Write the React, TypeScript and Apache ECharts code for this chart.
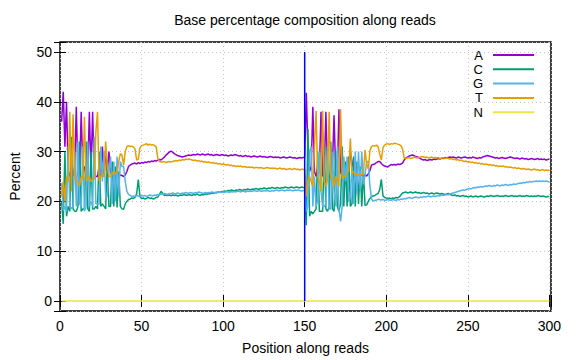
import React, { useEffect, useRef } from "react";
import * as echarts from "echarts";

const chartTitle = "Base percentage composition along reads";
const xAxisTitle = "Position along reads";
const yAxisTitle = "Percent";
const seriesNames = ["A", "C", "G", "T", "N"];
const seriesColors = ["#9400d3", "#009e73", "#56b4e9", "#e69f00", "#f0e442"];

// Percent of each base at positions 1..300 (read 1 = 1..150, read 2 = 151..300)
const aValues = [
  36, 42, 31, 40, 26, 25, 27, 25, 27, 39,
  25, 26, 38, 26, 27, 25, 26, 38, 26, 38,
  26, 25, 25, 27, 25, 31, 25, 30, 26, 30,
  26, 25, 25.5, 25, 25.5, 25, 25.3, 25.2, 25, 25.3,
  26, 27, 27.3, 27.5, 27.6, 27.7, 27.5, 27.8, 27.6, 27.8,
  27.7, 27.9, 27.8, 28, 27.9, 28.1, 28, 28.2, 28.1, 28.3,
  28.4, 28.3, 28.6, 28.9, 29.3, 29.6, 29.9, 30.1, 29.9, 29.6,
  29.4, 29.2, 29.1, 29, 28.9, 29, 29.1, 29.2, 29.3, 29.2,
  29.3, 29.4, 29.3, 29.5, 29.4, 29.3, 29.5, 29.4, 29.3, 29.4,
  29.5, 29.3, 29.4, 29.2, 29.3, 29.4, 29.3, 29.2, 29.4, 29.3,
  29.2, 29.3, 29.1, 29.2, 29.3, 29.2, 29.4, 29.3, 29.2, 29.1,
  29.2, 29.0, 29.1, 29.2, 29.0, 29.1, 28.9, 29.0, 29.1, 29.0,
  28.9, 29.0, 29.1, 28.9, 29.0, 28.9, 28.8, 28.9, 29.0, 28.9,
  28.8, 28.9, 28.8, 28.9, 28.7, 28.8, 28.9, 28.8, 28.7, 28.8,
  28.9, 28.8, 28.7, 28.8, 28.6, 28.7, 28.8, 28.7, 28.8, 28.8,
  41.8, 30, 26, 27, 39, 26, 25, 27, 26, 38,
  25, 26, 38, 26, 25, 25, 27, 37.3, 26, 25,
  38.5, 26, 25, 27, 25.5, 26, 25, 30, 28, 25.5,
  25.2, 25, 25.3, 25.1, 25.4, 25, 25.3, 25.1, 25.5, 26.2,
  27.3, 27.4, 27.5, 27.8, 28, 28, 27.6, 27.3, 27.1, 27,
  26.9, 27.2, 27.4, 27.3, 27.4, 27.3, 27.5, 27.4, 27.5, 27.7,
  28.3, 28.7, 28.9, 29.1, 29.2, 29.3, 29.2, 29.0, 28.9, 28.8,
  28.6, 28.4, 28.3, 28.4, 28.2, 28.3, 28.4, 28.3, 28.5, 28.4,
  28.5, 28.6, 28.5, 28.7, 28.6, 28.8, 28.7, 28.8, 28.9, 28.8,
  28.9, 28.8, 28.7, 28.9, 28.8, 28.7, 28.8, 28.9, 28.8, 28.7,
  28.8, 28.7, 28.9, 28.8, 28.7, 28.6, 28.8, 28.7, 28.9, 29.0,
  29.1, 29.2, 29.1, 29.0, 28.9, 28.8, 28.7, 28.8, 28.6, 28.7,
  28.8, 28.7, 28.6, 28.7, 28.8, 28.9, 28.8, 28.7, 28.6, 28.7,
  28.6, 28.5, 28.7, 28.6, 28.5, 28.6, 28.4, 28.5, 28.6, 28.5,
  28.4, 28.5, 28.6, 28.4, 28.5, 28.4, 28.5, 28.3, 28.4, 28.5,
];

const cValues = [
  20, 15.5, 30, 17, 19, 18, 33, 18.5, 18, 18,
  19, 32, 18, 18.5, 18.5, 32, 18.5, 18, 30, 18.5,
  18.5, 19, 18.5, 30, 19, 19.5, 19, 18.5, 28, 19,
  19, 28, 19, 27, 18.8, 26, 19, 18.5, 18.4, 19.5,
  20, 20.4, 20.5, 20.7, 20.6, 20.8, 21.5, 24.4, 21, 20.6,
  20.7, 20.5, 20.6, 20.8, 20.6, 20.7, 20.5, 20.6, 20.8, 20.9,
  21.4, 22, 21.6, 21.2, 21.3, 21.2, 21.3, 21.1, 21.3, 21.2,
  21.3, 21.1, 21.2, 21.3, 21.2, 21.4, 21.3, 21.2, 21.4, 21.3,
  21.2, 21.4, 21.3, 21.5, 21.3, 21.2, 21.4, 21.3, 21.5, 21.4,
  21.6, 21.5, 21.7, 21.6, 21.8, 21.7, 21.9, 21.8, 22.0, 21.9,
  22.1, 22.0, 22.2, 22.1, 22.3, 22.2, 22.1, 22.3, 22.2, 22.4,
  22.3, 22.2, 22.4, 22.3, 22.5, 22.4, 22.3, 22.5, 22.4, 22.6,
  22.5, 22.4, 22.6, 22.5, 22.7, 22.6, 22.5, 22.7, 22.6, 22.8,
  22.7, 22.6, 22.8, 22.7, 22.6, 22.8, 22.7, 22.9, 22.8, 22.7,
  22.8, 22.9, 22.7, 22.8, 22.9, 22.8, 22.7, 22.9, 22.8, 22.8,
  15.2, 34.6, 17, 18, 17.5, 18, 18.5, 30, 18, 18,
  18, 31, 18.5, 18, 19, 32, 18.5, 18, 30, 19,
  18, 19.5, 31, 19, 28, 19, 29, 19, 19.5, 29,
  19, 28, 19.5, 27, 19, 26, 19.2, 19.3, 20, 20.6,
  21, 21.1, 21.2, 21.4, 21.6, 22.4, 24.4, 21.1, 20.8, 20.7,
  20.6, 20.7, 20.5, 20.7, 20.6, 20.8, 20.7, 20.9, 21.3, 21.7,
  21.8, 21.9, 21.7, 21.8, 21.9, 21.7, 21.8, 21.9, 21.7, 21.8,
  21.6, 21.7, 21.8, 21.6, 21.7, 21.5, 21.6, 21.7, 21.5, 21.6,
  21.7, 21.6, 21.5, 21.6, 21.5, 21.4, 21.5, 21.6, 21.4, 21.3,
  21.2, 21.3, 21.1, 21.2, 21.0, 21.1, 21.2, 21.0, 21.1, 20.9,
  21.0, 21.1, 20.9, 21.0, 21.1, 20.9, 21.0, 21.1, 21.0, 20.9,
  21.0, 21.1, 21.0, 21.2, 21.1, 21.0, 21.1, 21.2, 21.1, 21.0,
  21.1, 21.0, 21.2, 21.1, 21.0, 21.1, 21.2, 21.0, 21.1, 21.0,
  21.1, 21.2, 21.0, 21.1, 21.0, 21.2, 21.1, 21.0, 21.1, 21.0,
  21.1, 21.0, 21.2, 21.1, 21.0, 21.1, 21.0, 20.9, 21.0, 21.0,
];

const gValues = [
  23.7, 18.2, 19, 18, 31, 19, 18.5, 19, 30, 19,
  32, 19.5, 19, 31, 18, 19, 32, 19, 20, 19,
  33, 19.5, 19.5, 19.5, 31, 24, 30, 21, 21, 26,
  29, 19.5, 28, 20, 29, 21, 28, 27, 27, 24,
  22, 21.4, 21.2, 21.0, 21.1, 21.0, 21.2, 21.1, 21.0, 21.2,
  21.1, 21.2, 21.0, 21.1, 21.3, 21.2, 21.1, 21.3, 21.2, 21.4,
  21.3, 21.5, 21.4, 21.6, 21.5, 21.4, 21.6, 21.5, 21.7, 21.6,
  21.5, 21.7, 21.6, 21.5, 21.7, 21.6, 21.8, 21.7, 21.6, 21.8,
  21.7, 21.6, 21.8, 21.7, 21.9, 21.8, 21.7, 21.6, 21.8, 21.7,
  21.8, 21.7, 21.9, 21.8, 21.7, 21.9, 21.8, 21.9, 21.8, 21.9,
  21.8, 22.0, 21.9, 21.8, 22.0, 21.9, 22.0, 21.9, 22.1, 22.0,
  21.9, 22.1, 22.0, 21.9, 22.1, 22.0, 22.1, 22.0, 22.2, 22.1,
  22.0, 22.2, 22.1, 22.0, 22.2, 22.1, 22.2, 22.1, 22.0, 22.2,
  22.1, 22.2, 22.3, 22.1, 22.2, 22.3, 22.2, 22.1, 22.3, 22.2,
  22.3, 22.2, 22.1, 22.3, 22.2, 22.3, 22.2, 22.1, 22.2, 22.2,
  18, 19, 30, 31, 19, 25, 19, 20, 30, 22,
  19, 19, 19.5, 31, 18.5, 18.5, 30, 22, 19, 31,
  18.5, 16, 19, 29, 24, 29, 20, 21, 27, 19.5,
  30, 21.5, 30, 22.5, 30, 23.4, 25.3, 28, 28, 23,
  20.5, 20.1, 20.2, 20.3, 20.4, 20.4, 20.3, 20.4, 20.2, 20.3,
  20.4, 20.3, 20.2, 20.4, 20.3, 20.2, 20.4, 20.3, 20.5, 20.4,
  20.6, 20.5, 20.7, 20.8, 20.7, 20.6, 20.8, 20.9, 20.8, 20.7,
  20.9, 20.8, 21.0, 20.9, 21.0, 21.1, 20.9, 21.0, 21.1, 21.0,
  21.1, 21.2, 21.1, 21.3, 21.2, 21.3, 21.4, 21.3, 21.5, 21.6,
  21.7, 21.8, 21.9, 22.0, 22.1, 22.2, 22.3, 22.2, 22.4, 22.5,
  22.6, 22.5, 22.7, 22.8, 22.7, 22.9, 22.8, 23.0, 22.9, 23.0,
  23.1, 23.0, 23.2, 23.1, 23.0, 23.2, 23.1, 23.3, 23.2, 23.1,
  23.3, 23.2, 23.4, 23.3, 23.2, 23.4, 23.3, 23.5, 23.4, 23.5,
  23.6, 23.7, 23.6, 23.8, 23.7, 23.9, 23.8, 24.0, 23.9, 24.0,
  24.0, 24.1, 24.0, 24.1, 24.0, 24.1, 24.0, 24.1, 24.0, 23.9,
];

const tValues = [
  21, 24, 20, 25, 24, 38, 22, 37.5, 25, 24,
  24, 23, 25, 24.5, 37, 24, 24.5, 25, 24, 24.5,
  24.5, 34, 38, 24, 25, 25.5, 25, 32, 27, 25,
  25, 25.5, 26, 25.5, 26, 28, 29.6, 29.3, 27.3, 30,
  31, 31.2, 31, 31.1, 30.9, 30.5, 28.3, 28.5, 30.8, 31.2,
  31.3, 31.4, 31.6, 31.3, 31.5, 31.3, 31.4, 31.2, 30.9, 28.6,
  28.0, 27.9, 27.9, 28.0, 27.8, 27.9, 28.0, 27.9, 28.0, 28.1,
  28.2, 28.1, 28.3, 28.2, 28.4, 28.3, 28.5, 28.4, 28.5, 28.4,
  28.3, 28.2, 28.3, 28.1, 28.2, 28.0, 28.1, 27.9, 28.0, 27.8,
  27.9, 27.8, 27.7, 27.8, 27.6, 27.7, 27.5, 27.6, 27.4, 27.5,
  27.4, 27.3, 27.4, 27.2, 27.3, 27.1, 27.2, 27.0, 27.1, 27.0,
  27.1, 26.9, 27.0, 26.9, 26.8, 26.9, 26.8, 26.9, 26.7, 26.8,
  26.8, 26.7, 26.8, 26.7, 26.6, 26.7, 26.8, 26.7, 26.6, 26.7,
  26.6, 26.7, 26.5, 26.6, 26.7, 26.5, 26.6, 26.5, 26.4, 26.5,
  26.6, 26.4, 26.5, 26.6, 26.4, 26.5, 26.3, 26.5, 26.4, 26.5,
  21, 24, 25, 24, 23, 31, 38.2, 25, 24, 22,
  38.2, 24, 23, 24.5, 38, 25, 24.5, 23, 25, 24.5,
  23, 38.5, 24.5, 25, 25, 26, 26, 32.6, 25.5, 26,
  25.3, 25.4, 25.2, 25.3, 25.4, 25.6, 30.3, 27.5, 26.5, 30.2,
  31, 31.2, 31.1, 31.3, 31.0, 29.5, 28.3, 30.8, 31.3, 31.5,
  31.6, 31.4, 31.6, 31.5, 31.7, 31.6, 31.5, 31.4, 31.2, 30.5,
  28.7, 28.6, 28.7, 28.8, 28.6, 28.7, 28.9, 28.8, 28.7, 28.8,
  28.9, 29.0, 28.9, 28.8, 28.9, 28.7, 28.8, 28.9, 28.7, 28.8,
  28.7, 28.8, 28.6, 28.7, 28.8, 28.6, 28.7, 28.6, 28.5, 28.6,
  28.4, 28.5, 28.3, 28.4, 28.2, 28.3, 28.1, 28.0, 28.1, 27.9,
  28.0, 27.8, 27.9, 27.7, 27.8, 27.6, 27.7, 27.5, 27.6, 27.4,
  27.5, 27.4, 27.3, 27.4, 27.2, 27.3, 27.1, 27.2, 27.0, 27.1,
  27.0, 27.1, 26.9, 27.0, 26.8, 26.9, 26.8, 26.7, 26.8, 26.6,
  26.7, 26.6, 26.5, 26.6, 26.5, 26.4, 26.5, 26.4, 26.3, 26.4,
  26.5, 26.3, 26.4, 26.2, 26.3, 26.4, 26.2, 26.3, 26.2, 26.3,
];

const nValues = [
  0, 0, 0, 0, 0, 0, 0, 0, 0, 0, 0, 0, 0, 0, 0, 0, 0, 0, 0, 0,
  0, 0, 0, 0, 0, 0, 0, 0, 0, 0, 0, 0, 0, 0, 0, 0, 0, 0, 0, 0,
  0, 0, 0, 0, 0, 0, 0, 0, 0, 0, 0, 0, 0, 0, 0, 0, 0, 0, 0, 0,
  0, 0, 0, 0, 0, 0, 0, 0, 0, 0, 0, 0, 0, 0, 0, 0, 0, 0, 0, 0,
  0, 0, 0, 0, 0, 0, 0, 0, 0, 0, 0, 0, 0, 0, 0, 0, 0, 0, 0, 0,
  0, 0, 0, 0, 0, 0, 0, 0, 0, 0, 0, 0, 0, 0, 0, 0, 0, 0, 0, 0,
  0, 0, 0, 0, 0, 0, 0, 0, 0, 0, 0, 0, 0, 0, 0, 0, 0, 0, 0, 0,
  0, 0, 0, 0, 0, 0, 0, 0, 0, 0, 0, 0, 0, 0, 0, 0, 0, 0, 0, 0,
  0, 0, 0, 0, 0, 0, 0, 0, 0, 0, 0, 0, 0, 0, 0, 0, 0, 0, 0, 0,
  0, 0, 0, 0, 0, 0, 0, 0, 0, 0, 0, 0, 0, 0, 0, 0, 0, 0, 0, 0,
  0, 0, 0, 0, 0, 0, 0, 0, 0, 0, 0, 0, 0, 0, 0, 0, 0, 0, 0, 0,
  0, 0, 0, 0, 0, 0, 0, 0, 0, 0, 0, 0, 0, 0, 0, 0, 0, 0, 0, 0,
  0, 0, 0, 0, 0, 0, 0, 0, 0, 0, 0, 0, 0, 0, 0, 0, 0, 0, 0, 0,
  0, 0, 0, 0, 0, 0, 0, 0, 0, 0, 0, 0, 0, 0, 0, 0, 0, 0, 0, 0,
  0, 0, 0, 0, 0, 0, 0, 0, 0, 0, 0, 0, 0, 0, 0, 0, 0, 0, 0, 0,
];

// Boundary between read 1 and read 2
const boundaryX = [150, 150];
const boundaryY = [0, 50];

const xMin = 0;
const xMax = 301;
const xInterval = 50;
const yMin = -2;
const yMax = 52;

const FONT = "Liberation Sans, Arial, sans-serif";

export default function App() {
  const ref = useRef<HTMLDivElement>(null);

  useEffect(() => {
    const chart = echarts.init(ref.current!, null, { renderer: "svg" });
    const allValues = [aValues, cValues, gValues, tValues, nValues];
    const toPairs = (vals: number[]) => vals.map((v, i) => [i + 1, v]);

    const tickStyle = { inside: true, length: 6, lineStyle: { color: "#000", width: 1 } };
    const gridLine = { show: true, lineStyle: { color: "#c4c4c4", width: 1, type: [1, 3] as any } };

    const lineSeries: any[] = seriesNames.map((name, i) => ({
      name,
      type: "line",
      data: toPairs(allValues[i]),
      symbol: "none",
      showSymbol: false,
      lineStyle: { color: seriesColors[i], width: 1.5 },
      itemStyle: { color: seriesColors[i] },
      z: 3,
    }));
    lineSeries.push({
      name: "boundary",
      type: "line",
      data: boundaryX.map((x, i) => [x, boundaryY[i]]),
      symbol: "none",
      lineStyle: { color: "#0000ff", width: 1.5 },
      z: 4,
    });

    chart.setOption({
      animation: false,
      backgroundColor: "#fff",
      textStyle: { fontFamily: FONT },
      title: {
        text: chartTitle,
        left: 305,
        top: 13,
        padding: 0,
        textAlign: "center",
        textStyle: { fontSize: 14, fontWeight: "normal", color: "#000", fontFamily: FONT },
      },
      legend: {
        data: seriesNames,
        orient: "vertical",
        right: 42,
        top: 44.5,
        align: "right",
        icon: "rect",
        itemWidth: 41,
        itemHeight: 2,
        itemGap: -6.7,
        padding: 0,
        textStyle: {
          fontSize: 13,
          lineHeight: 13,
          color: "#000",
          fontFamily: FONT,
          padding: [8, 5, 0, 0],
        },
        selectedMode: false,
      },
      grid: {
        left: 60,
        right: 25,
        top: 42,
        bottom: 46,
        show: true,
        borderColor: "#000",
        borderWidth: 1.5,
        backgroundColor: "transparent",
      },
      xAxis: [
        {
          type: "value",
          min: xMin,
          max: xMax,
          interval: xInterval,
          axisLine: { show: false },
          axisTick: tickStyle,
          axisLabel: {
            formatter: (v: number) => (v % xInterval === 0 ? String(v) : ""),
            margin: 8,
            fontSize: 14,
            color: "#000",
            fontFamily: FONT,
          },
          splitLine: gridLine,
          name: xAxisTitle,
          nameLocation: "middle",
          nameGap: 30,
          nameTextStyle: { fontSize: 14, color: "#000", fontFamily: FONT },
        },
        {
          type: "value",
          position: "top",
          min: xMin,
          max: xMax,
          interval: xInterval,
          axisLine: { show: false },
          axisTick: tickStyle,
          axisLabel: { show: false },
          splitLine: { show: false },
        },
      ],
      yAxis: [
        {
          type: "value",
          min: yMin,
          max: yMax,
          splitNumber: 5,
          axisLine: { show: false },
          axisTick: tickStyle,
          axisLabel: {
            formatter: (v: number) => (Math.abs(v % 10) < 1e-9 ? String(Math.abs(v)) : ""),
            margin: 8,
            fontSize: 14,
            color: "#000",
            fontFamily: FONT,
          },
          splitLine: gridLine,
          name: yAxisTitle,
          nameLocation: "middle",
          nameGap: 38,
          nameTextStyle: { fontSize: 14, color: "#000", fontFamily: FONT },
        },
        {
          type: "value",
          position: "right",
          min: yMin,
          max: yMax,
          splitNumber: 5,
          axisLine: { show: false },
          axisTick: tickStyle,
          axisLabel: { show: false },
          splitLine: { show: false },
        },
      ],
      series: lineSeries,
    });

    return () => chart.dispose();
  }, []);

  return (
    <div
      ref={ref}
      style={{ position: "absolute", left: 0, top: 0, width: 576, height: 360 }}
    />
  );
}
